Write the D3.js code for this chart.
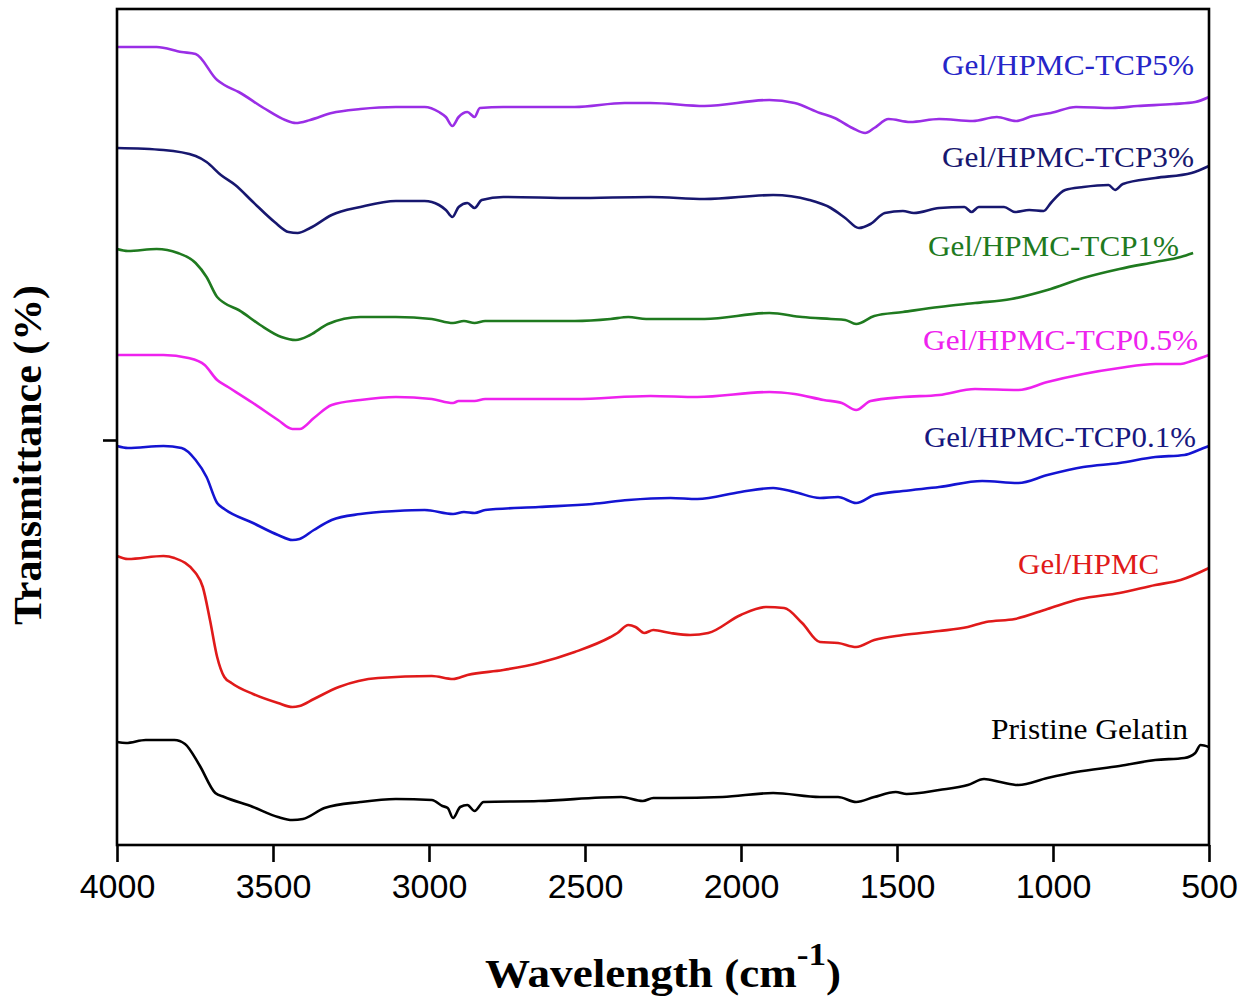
<!DOCTYPE html>
<html>
<head>
<meta charset="utf-8">
<script src="https://cdn.jsdelivr.net/npm/d3@7/dist/d3.min.js"></script>
<style>
  html, body { margin: 0; padding: 0; background: #fff; }
  svg { display: block; }
</style>
</head>
<body>
<svg id="chart" width="1250" height="998"></svg>
<script>
// FTIR spectra, stacked with vertical offsets (transmittance in arbitrary units)
// Each series: [wavenumber (cm-1), transmittance (a.u.)]

const tcp5 = [
  [4000,798],[3873,798],[3793,793],[3748,791],[3679,765],[3656,760],[3610,753],[3530,737],
  [3461,725],[3427,722],[3381,725],[3312,732],[3220,736],[3106,738],[3014,738],[2968,733],
  [2946,728],[2925,719],[2905,728],[2877,733],[2854,728],[2837,737],[2762,738],[2533,738],
  [2373,742],[2290,742],[2117,739],[1909,745],[1828,742],[1747,732],[1700,727],[1643,717],
  [1602,712],[1573,717],[1527,726],[1458,723],[1365,726],[1257,724],[1180,728],[1119,724],
  [1065,729],[1007,732],[926,738],[810,737],[729,739],[614,741],[544,743],[500,748]
];

const tcp3 = [
  [4000,697],[3851,695],[3748,689],[3713,683],[3667,670],[3621,660],[3564,643],[3495,623],
  [3450,613],[3421,612],[3381,617],[3312,630],[3220,638],[3106,644],[3014,644],[2968,640],
  [2946,635],[2925,628],[2905,638],[2877,642],[2854,637],[2831,645],[2762,648],[2533,647],
  [2290,648],[2117,646],[1897,650],[1781,645],[1712,637],[1666,627],[1622,617],[1585,621],
  [1539,632],[1481,634],[1446,632],[1365,637],[1284,638],[1261,633],[1238,638],[1157,638],
  [1122,633],[1076,635],[1030,634],[1007,642],[961,655],[903,658],[822,660],[801,655],
  [776,661],[672,667],[556,672],[500,679]
];

const tcp1 = [
  [4000,596],[3965,594],[3873,596],[3805,592],[3748,582],[3713,568],[3679,548],[3656,542],
  [3610,535],[3541,520],[3473,508],[3427,505],[3381,510],[3324,521],[3220,528],[3106,528],
  [2991,526],[2923,522],[2888,524],[2854,522],[2820,524],[2533,524],[2418,526],[2361,528],
  [2304,526],[2117,526],[1909,532],[1804,528],[1712,526],[1666,525],[1631,521],[1573,529],
  [1481,533],[1365,538],[1250,542],[1134,546],[1018,555],[903,567],[787,576],[672,583],
  [591,588],[551,592]
];

const tcp05 = [
  [4000,490],[3851,490],[3771,487],[3719,480],[3679,465],[3644,458],[3564,442],[3484,425],
  [3438,416],[3415,416],[3369,427],[3312,440],[3220,445],[3106,448],[2991,446],[2923,442],
  [2905,444],[2854,444],[2820,446],[2533,446],[2290,449],[2140,448],[1909,453],[1828,451],
  [1735,445],[1677,442],[1631,435],[1585,444],[1481,448],[1365,450],[1250,456],[1111,455],
  [1018,463],[903,471],[787,477],[672,481],[591,481],[556,484],[500,490]
];

const tcp01 = [
  [4000,399],[3965,397],[3851,399],[3793,397],[3748,385],[3713,368],[3679,342],[3656,336],
  [3564,322],[3484,310],[3438,305],[3415,306],[3369,315],[3312,325],[3220,331],[3106,334],
  [3014,335],[2923,331],[2888,333],[2854,332],[2820,335],[2648,338],[2476,341],[2361,345],
  [2226,347],[2140,346],[2001,353],[1897,357],[1828,353],[1747,347],[1689,348],[1631,342],
  [1573,350],[1481,354],[1365,358],[1227,364],[1111,362],[1018,370],[903,378],[787,382],
  [672,388],[579,390],[533,395],[500,399]
];

const gelHpmc = [
  [4000,289],[3965,286],[3851,289],[3816,287],[3748,272],[3725,258],[3702,225],[3679,188],
  [3656,168],[3633,162],[3564,151],[3484,142],[3438,138],[3415,139],[3369,146],[3289,158],
  [3163,167],[2991,169],[2923,166],[2877,170],[2762,175],[2648,182],[2533,193],[2418,208],
  [2396,212],[2361,220],[2338,218],[2310,212],[2281,215],[2226,212],[2163,210],[2105,212],
  [2001,230],[1920,238],[1862,237],[1804,222],[1747,203],[1689,202],[1631,198],[1573,205],
  [1481,210],[1365,214],[1273,218],[1215,223],[1122,226],[1018,236],[914,246],[787,252],
  [672,260],[591,265],[500,277]
];

const pristineGelatin = [
  [4000,103],[3971,102],[3908,105],[3816,105],[3782,101],[3736,80],[3685,52],[3656,48],
  [3564,38],[3484,28],[3438,25],[3404,26],[3335,37],[3220,43],[3106,46],[2991,45],
  [2957,39],[2940,37],[2923,27],[2900,38],[2877,40],[2854,34],[2825,43],[2648,44],
  [2384,48],[2315,44],[2281,47],[2226,47],[2059,48],[1897,52],[1747,48],[1689,48],
  [1631,43],[1573,48],[1504,53],[1469,51],[1365,55],[1273,60],[1221,66],[1169,63],
  [1111,60],[1018,67],[926,73],[787,79],[672,85],[579,87],[544,92],[527,100],[500,98]
];

const seriesData   = [tcp5, tcp3, tcp1, tcp05, tcp01, gelHpmc, pristineGelatin];
const seriesNames  = ["Gel/HPMC-TCP5%", "Gel/HPMC-TCP3%", "Gel/HPMC-TCP1%", "Gel/HPMC-TCP0.5%",
                      "Gel/HPMC-TCP0.1%", "Gel/HPMC", "Pristine Gelatin"];
const lineColors   = ["#9a2ee6", "#17176f", "#1f7a1f", "#ee22ee", "#1414d2", "#e01a1a", "#000000"];
const labelColors  = ["#2626c8", "#17176f", "#1f7a1f", "#ee22ee", "#17177f", "#e01a1a", "#000000"];
// label anchor: right edge wavenumber and transmittance of baseline
const labelAnchorWn = [548, 548, 596, 535, 542, 660, 567];
const labelAnchorT  = [770, 678, 589, 495, 398, 271, 106];
const labelWidths   = [252, 252, 251, 275, 272, 141, 197];

const xTicks = [4000, 3500, 3000, 2500, 2000, 1500, 1000, 500];
const yTicks = [405];

const svg = d3.select("#chart");
const plot = { left: 117, right: 1209, top: 9, bottom: 845 };

const x = d3.scaleLinear().domain([4000, 500]).range([plot.left, plot.right]);
const y = d3.scaleLinear().domain([0, 836]).range([plot.bottom, plot.top]);

const serif = "'Liberation Serif', 'Times New Roman', serif";
const sans = "'Liberation Sans', Arial, sans-serif";

// Spectra
const line = d3.line()
  .x(d => x(d[0]))
  .y(d => y(d[1]))
  .curve(d3.curveMonotoneX);

svg.append("g")
  .selectAll("path")
  .data(seriesData)
  .join("path")
  .attr("d", line)
  .attr("fill", "none")
  .attr("stroke", (d, i) => lineColors[i])
  .attr("stroke-width", 2.6)
  .attr("stroke-linejoin", "round");

// Series labels
svg.append("g")
  .selectAll("text")
  .data(seriesNames)
  .join("text")
  .attr("x", (d, i) => x(labelAnchorWn[i]))
  .attr("y", (d, i) => y(labelAnchorT[i]))
  .attr("text-anchor", "end")
  .attr("font-family", serif)
  .attr("font-size", 29)
  .attr("textLength", (d, i) => labelWidths[i])
  .attr("lengthAdjust", "spacingAndGlyphs")
  .attr("fill", (d, i) => labelColors[i])
  .text(d => d);

// Frame
svg.append("rect")
  .attr("x", plot.left).attr("y", plot.top)
  .attr("width", plot.right - plot.left)
  .attr("height", plot.bottom - plot.top)
  .attr("fill", "none")
  .attr("stroke", "#000")
  .attr("stroke-width", 2.6);

// X axis
const xAxis = d3.axisBottom(x)
  .tickValues(xTicks)
  .tickSize(17)
  .tickPadding(12)
  .tickFormat(d3.format("d"));

const gx = svg.append("g")
  .attr("transform", `translate(0,${plot.bottom})`)
  .call(xAxis);
gx.select(".domain").remove();
gx.selectAll(".tick line").attr("stroke", "#000").attr("stroke-width", 2.6);
gx.selectAll(".tick text")
  .attr("font-family", sans)
  .attr("font-size", 34)
  .attr("fill", "#000");

// Y axis (single unlabeled tick)
const yAxis = d3.axisLeft(y)
  .tickValues(yTicks)
  .tickSize(14)
  .tickFormat("");
const gy = svg.append("g")
  .attr("transform", `translate(${plot.left},0)`)
  .call(yAxis);
gy.select(".domain").remove();
gy.selectAll(".tick line").attr("stroke", "#000").attr("stroke-width", 2.6);

// Axis titles
const xTitle = svg.append("text")
  .attr("transform", "translate(663,987) scale(1.1,1)")
  .attr("text-anchor", "middle")
  .attr("font-family", serif)
  .attr("font-weight", "bold")
  .attr("font-size", 41)
  .attr("fill", "#000");
xTitle.append("tspan").text("Wavelength (cm");
xTitle.append("tspan").attr("dy", -22).attr("font-size", 32).text("-1");
xTitle.append("tspan").attr("dy", 22).text(")");

svg.append("text")
  .attr("transform", "translate(41,455) rotate(-90)")
  .attr("text-anchor", "middle")
  .attr("font-family", serif)
  .attr("font-weight", "bold")
  .attr("font-size", 41)
  .attr("textLength", 340)
  .attr("lengthAdjust", "spacingAndGlyphs")
  .attr("fill", "#000")
  .text("Transmittance (%)");
</script>
</body>
</html>
